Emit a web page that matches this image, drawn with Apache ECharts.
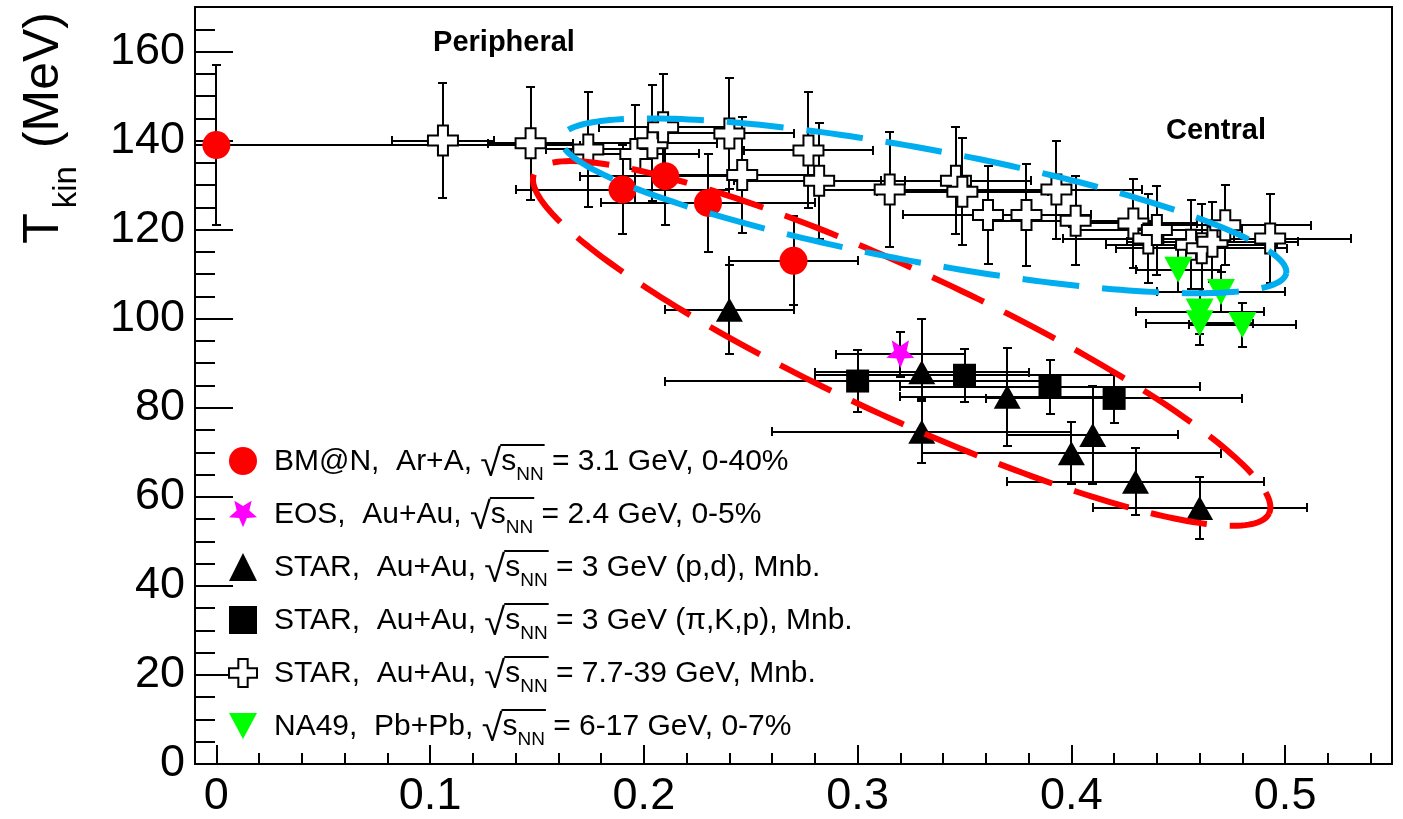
<!DOCTYPE html>
<html>
<head>
<meta charset="utf-8">
<title>Tkin vs centrality</title>
<script src="https://cdn.jsdelivr.net/npm/echarts@6/dist/echarts.min.js"></script>
<style>
html, body { margin: 0; padding: 0; background: #fff; }
#chart { width: 1403px; height: 819px; }
</style>
</head>
<body>
<div id="chart"></div>
<script>
var FONT = '"Liberation Sans", Arial, Helvetica, sans-serif';

// BM@N, Ar+A, 3.1 GeV
var bmnX = [0, 0.19, 0.21, 0.23, 0.27];
var bmnY = [139, 129, 132, 126, 113];
var bmnXErr = [0.17, 0.05, 0.04, 0.05, 0.03];
var bmnYErr = [18, 10, 11, 11, 10];

// EOS, Au+Au, 2.4 GeV
var eosX = [0.32];
var eosY = [92];
var eosXErr = [0.03];
var eosYErr = [5];

// STAR 3 GeV (p,d)
var pdX = [0.24, 0.33, 0.33, 0.37, 0.40, 0.41, 0.43, 0.46];
var pdY = [102, 88, 74.6, 82.5, 69.8, 73.9, 63.4, 57.5];
var pdXErr = [0.03, 0.05, 0.07, 0.05, 0.07, 0.04, 0.06, 0.05];
var pdYErr = [10, [6, 12], 7, 11, 7, 11, 7.5, 7];

// STAR 3 GeV (pi,K,p)
var pkpX = [0.30, 0.35, 0.39, 0.42];
var pkpY = [86, 87.3, 84.7, 82.1];
var pkpXErr = [0.09, 0.07, 0.07, 0.06];
var pkpYErr = [7, 6, 6, 5.5];

// STAR 7.7-39 GeV
var besX = [0.106, 0.147, 0.174, 0.196, 0.204, 0.209, 0.240, 0.246, 0.277, 0.282, 0.315, 0.346, 0.349,
            0.361, 0.379, 0.393, 0.402, 0.429, 0.436, 0.440, 0.456, 0.461, 0.466, 0.472, 0.493];
var besY = [140, 139.4, 138, 137, 139.4, 143, 141.6, 132.3, 137.8, 131, 129, 131, 128.5,
            123.3, 123.3, 129, 122, 121.4, 118, 119.9, 116.6, 115.8, 117.3, 121, 118];
var besXErr = [0.024, 0.02, 0.02, 0.03, 0.03, 0.03, 0.03, 0.035, 0.03, 0.04, 0.035, 0.035, 0.04,
               0.04, 0.03, 0.04, 0.04, 0.03, 0.04, 0.04, 0.04, 0.04, 0.04, 0.04, 0.038];
var besYErr = [13, 12.7, 13, 11, 13, 12, 12.5, 13, 13, 13, 13, 12, 12,
               11, 11.5, 11, 10, 10, 10, 10, 10, 10, 9, 9, 10];

// NA49, Pb+Pb
var naX = [0.45, 0.46, 0.46, 0.47, 0.48];
var naY = [111, 101.6, 99, 106, 98.6];
var naXErr = [0.02, 0.03, 0.025, 0.03, 0.025];
var naYErr = [5, 5, 5, 4.5, 5];

var seriesNames = ['BM@N', 'EOS', 'STAR pd', 'STAR piKp', 'STAR BES', 'NA49'];
var legendPrefix = ['BM@N,  Ar+A, ', 'EOS,  Au+Au, ', 'STAR,  Au+Au, ', 'STAR,  Au+Au, ', 'STAR,  Au+Au, ', 'NA49,  Pb+Pb, '];
var legendSuffix = [' = 3.1 GeV, 0-40%', ' = 2.4 GeV, 0-5%', ' = 3 GeV (p,d), Mnb.', ' = 3 GeV (\u03c0,K,p), Mnb.', ' = 7.7-39 GeV, Mnb.', ' = 6-17 GeV, 0-7%'];

// dashed ellipses drawn around the groups (tips in data units)
var ellipses = [
    { tips: [0.1487, 132.6, 0.4925, 56.3], half: 73, color: '#ff0000', offset: 35 },
    { tips: [0.1613, 140.5, 0.5005, 110.2], half: 56.5, color: '#00aeef', offset: 27 }
];

function points(xs, ys) {
    return xs.map(function (x, i) { return [x, ys[i]]; });
}
function errPoints(xs, ys, exs, eys) {
    return xs.map(function (x, i) {
        var ey = eys[i];
        var lo = Array.isArray(ey) ? ey[0] : ey;
        var hi = Array.isArray(ey) ? ey[1] : ey;
        return [x, ys[i], exs[i], lo, hi];
    });
}

function renderErr(params, api) {
    var x = api.value(0), y = api.value(1), ex = api.value(2);
    var lo = api.value(3), hi = api.value(4);
    var l = api.coord([x - ex, y]), r = api.coord([x + ex, y]);
    var t = api.coord([x, y + hi]), b = api.coord([x, y - lo]);
    var c = 4.5;
    var segs = [];
    if (ex > 0) {
        segs.push([l[0], l[1], r[0], r[1]]);
        segs.push([l[0], l[1] - c, l[0], l[1] + c]);
        segs.push([r[0], r[1] - c, r[0], r[1] + c]);
    }
    if (hi > 0 || lo > 0) {
        segs.push([t[0], t[1], b[0], b[1]]);
        segs.push([t[0] - c, t[1], t[0] + c, t[1]]);
        segs.push([b[0] - c, b[1], b[0] + c, b[1]]);
    }
    return {
        type: 'group',
        children: segs.map(function (s) {
            return {
                type: 'line',
                shape: { x1: Math.round(s[0]), y1: Math.round(s[1]), x2: Math.round(s[2]), y2: Math.round(s[3]) },
                style: { stroke: '#000', lineWidth: 2 }
            };
        })
    };
}

function errSeries(name, data) {
    return {
        name: name + ' err', type: 'custom', coordinateSystem: 'cartesian2d',
        renderItem: renderErr, data: data, encode: { x: 0, y: 1 },
        clip: true, z: 1, silent: true
    };
}

function ellipseSeries(e) {
    return {
        name: 'ellipse', type: 'custom', coordinateSystem: 'cartesian2d',
        data: [e.tips], encode: { x: [0, 2], y: [1, 3] }, z: 6, silent: true,
        renderItem: function (params, api) {
            var p1 = api.coord([api.value(0), api.value(1)]);
            var p2 = api.coord([api.value(2), api.value(3)]);
            var cx = (p1[0] + p2[0]) / 2, cy = (p1[1] + p2[1]) / 2;
            var dx = p2[0] - cx, dy = p2[1] - cy;
            var a = Math.sqrt(dx * dx + dy * dy);
            var ux = dx / a, uy = dy / a;
            var vx = uy, vy = -ux;
            var pts = [];
            for (var k = 0; k <= 240; k++) {
                var t = k / 240 * Math.PI * 2;
                var ca = a * Math.cos(t), sb = e.half * Math.sin(t);
                pts.push([cx + ca * ux + sb * vx, cy + ca * uy + sb * vy]);
            }
            return {
                type: 'polyline', shape: { points: pts },
                style: { stroke: e.color, lineWidth: 6, fill: null, lineDash: [57, 23], lineDashOffset: e.offset }
            };
        }
    };
}

function starPath() {
    var p = [];
    for (var k = 0; k < 10; k++) {
        var ang = Math.PI / 2 + k * Math.PI / 5;
        var rad = k % 2 === 0 ? 1 : 0.45;
        p.push((50 + 50 * rad * Math.cos(ang)).toFixed(2) + ',' + (50 + 50 * rad * Math.sin(ang)).toFixed(2));
    }
    return 'path://M' + p.join(' L') + ' Z';
}
var crossPath = 'path://M1,0 L2,0 L2,1 L3,1 L3,2 L2,2 L2,3 L1,3 L1,2 L0,2 L0,1 L1,1 Z';
var downTriPath = 'path://M0,0 L2,0 L1,1.85 Z';

// legend text pieces, widths measured so the root bar sits over s_NN
var LF = 30, SF = 19, RF = 38;
var ctx = document.createElement('canvas').getContext('2d');
function tw(s, size) { ctx.font = size + 'px ' + FONT; return ctx.measureText(s).width; }

var rich = {
    t: { fontSize: LF, lineHeight: 31, verticalAlign: 'top', fontFamily: FONT, color: '#000' },
    r: { fontSize: RF, lineHeight: 31, verticalAlign: 'top', fontFamily: FONT, color: '#000' },
    sub: { fontSize: SF, lineHeight: 19, verticalAlign: 'top', padding: [18, 0, 0, 0], fontFamily: FONT, color: '#000' }
};
legendPrefix.forEach(function (p, i) {
    var w0 = tw(p, LF) + tw('\u221a', RF) - 1;
    var wb = tw('s', LF) + tw('NN', SF) + 2;
    rich['sp' + i] = { width: w0, height: 2, lineHeight: 3, verticalAlign: 'top', fontSize: 2 };
    rich['bar' + i] = { width: wb, height: 2, lineHeight: 3, verticalAlign: 'top', backgroundColor: '#000', fontSize: 2 };
});

var chart = echarts.init(document.getElementById('chart'));
chart.setOption({
    animation: false,
    backgroundColor: '#fff',
    textStyle: { fontFamily: FONT },
    grid: { left: 195, right: 11, top: 7, bottom: 53, show: true, borderColor: '#000', borderWidth: 2 },
    xAxis: {
        type: 'value', min: -0.01, max: 0.55, splitNumber: 5,
        axisLine: { onZero: false, lineStyle: { color: '#000', width: 2 } },
        axisTick: { inside: true, length: 19, lineStyle: { color: '#000', width: 2 } },
        minorTick: { show: true, splitNumber: 5, length: 11, lineStyle: { color: '#000', width: 2 } },
        splitLine: { show: false },
        axisLabel: {
            color: '#000', fontSize: 45, fontFamily: FONT, margin: 10,
            formatter: function (v) { return (v < -1e-9 || v > 0.5001) ? '' : String(+v.toFixed(2)); }
        }
    },
    yAxis: {
        type: 'value', min: 0, max: 170, interval: 20,
        axisLine: { onZero: false, lineStyle: { color: '#000', width: 2 } },
        axisTick: { inside: true, length: 38, lineStyle: { color: '#000', width: 2 } },
        minorTick: { show: true, splitNumber: 4, length: 20, lineStyle: { color: '#000', width: 2 } },
        splitLine: { show: false },
        axisLabel: {
            color: '#000', fontSize: 45, fontFamily: FONT, margin: 10,
            formatter: function (v) { return v > 160 ? '' : String(v); }
        }
    },
    legend: {
        data: seriesNames, orient: 'vertical', left: 228, top: 444, padding: 0,
        itemWidth: 28, itemHeight: 28, itemGap: 12,
        textStyle: { rich: rich, padding: [0, 0, 0, 12] },
        formatter: function (name) {
            var i = seriesNames.indexOf(name);
            return '{sp' + i + '| }{bar' + i + '| }\n{t|' + legendPrefix[i] + '}{r|\u221a}{t|s}{sub|NN}{t|' + legendSuffix[i] + '}';
        }
    },
    graphic: [
        {
            type: 'text', x: 44, y: 12, rotation: Math.PI / 2,
            style: {
                text: '{m|T}{s|kin}{g| }{m|(MeV)}', align: 'right', verticalAlign: 'middle',
                rich: {
                    m: { fontSize: 50, lineHeight: 50, fontFamily: FONT, fill: '#000' },
                    s: { fontSize: 33, lineHeight: 33, padding: [45, 0, 0, 5], fontFamily: FONT, fill: '#000' },
                    g: { fontSize: 20, width: 18, lineHeight: 20 }
                }
            }
        },
        { type: 'text', x: 504, y: 43, style: { text: 'Peripheral', font: 'bold 29px ' + FONT, fill: '#000', align: 'center', verticalAlign: 'middle' } },
        { type: 'text', x: 1216, y: 131, style: { text: 'Central', font: 'bold 29px ' + FONT, fill: '#000', align: 'center', verticalAlign: 'middle' } }
    ],
    series: [
        errSeries('STAR BES', errPoints(besX, besY, besXErr, besYErr)),
        errSeries('BM@N', errPoints(bmnX, bmnY, bmnXErr, bmnYErr)),
        errSeries('EOS', errPoints(eosX, eosY, eosXErr, eosYErr)),
        errSeries('STAR pd', errPoints(pdX, pdY, pdXErr, pdYErr)),
        errSeries('STAR piKp', errPoints(pkpX, pkpY, pkpXErr, pkpYErr)),
        errSeries('NA49', errPoints(naX, naY, naXErr, naYErr)),
        {
            name: 'STAR BES', type: 'scatter', data: points(besX, besY), symbol: crossPath, symbolSize: 30, z: 3,
            itemStyle: { color: '#fff', borderColor: '#000', borderWidth: 2, opacity: 1 }
        },
        {
            name: 'BM@N', type: 'scatter', data: points(bmnX, bmnY), symbol: 'circle', symbolSize: 28, z: 3,
            itemStyle: { color: '#ff0000', opacity: 1 }
        },
        {
            name: 'EOS', type: 'scatter', data: points(eosX, eosY), symbol: starPath(), symbolSize: 28, z: 3,
            itemStyle: { color: '#ff00ff', opacity: 1 }
        },
        {
            name: 'STAR pd', type: 'scatter', data: points(pdX, pdY), symbol: 'triangle', symbolSize: [27, 24], z: 3,
            itemStyle: { color: '#000', opacity: 1 }
        },
        {
            name: 'STAR piKp', type: 'scatter', data: points(pkpX, pkpY), symbol: 'rect', symbolSize: 23, z: 3,
            itemStyle: { color: '#000', opacity: 1 }
        },
        {
            name: 'NA49', type: 'scatter', data: points(naX, naY), symbol: downTriPath, symbolSize: [28, 26], z: 3,
            itemStyle: { color: '#00ff00', opacity: 1 }
        },
        ellipseSeries(ellipses[0]),
        ellipseSeries(ellipses[1])
    ]
});
</script>
</body>
</html>
